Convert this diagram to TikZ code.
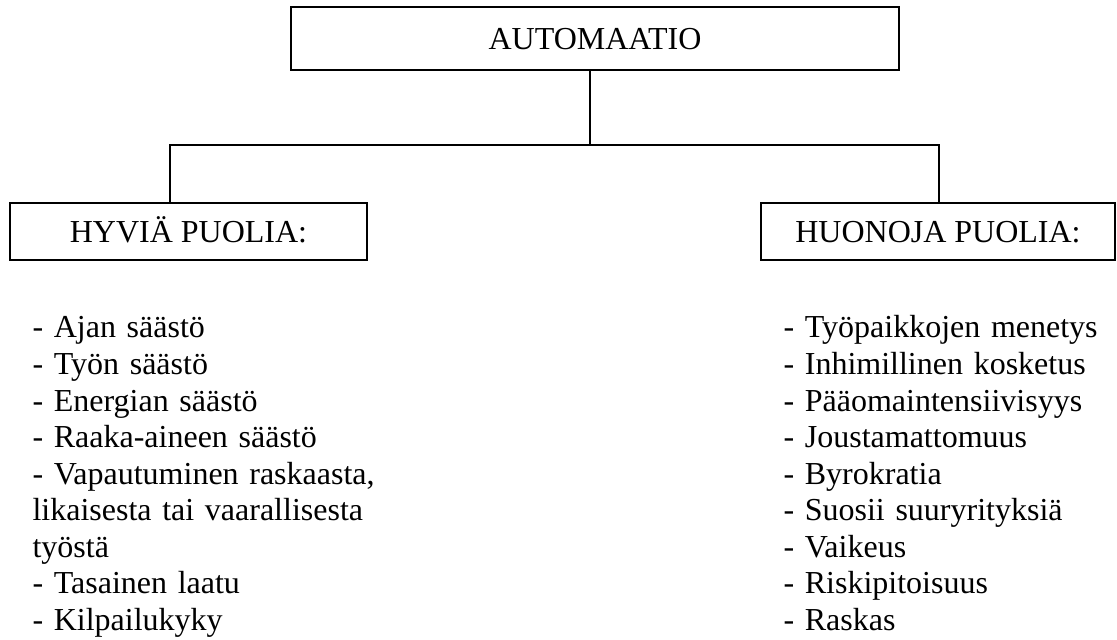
\documentclass[tikz,border=0pt]{standalone}
\usepackage{fontspec}
\setmainfont{Liberation Serif}
\usetikzlibrary{positioning}
\tikzset{
  headbox/.style={
    draw, line width=0.75pt, minimum width=228pt, minimum height=23.6pt,
    text height=7.95pt, text depth=0pt, inner sep=0pt
  },
  sidebox/.style={
    draw, line width=0.75pt, minimum height=21.4pt,
    text height=7.95pt, text depth=0pt, inner sep=0pt
  },
  plist/.style={
    anchor=base west, inner sep=0pt, align=left, text width=150pt,
    font=\fontsize{12pt}{13.69pt}\selectfont
  },
  link/.style={line width=0.75pt}
}

\begin{document}
\begin{tikzpicture}[x=0.375pt,y=-0.375pt,font=\fontsize{12pt}{13.69pt}\selectfont]
    \useasboundingbox (0,0) rectangle (1117,640);

    % boxes
    \node[headbox] (auto) at (595,38.5) {AUTOMAATIO};
    \node[sidebox,minimum width=133.9pt] (good) at (188.5,231.5) {HYVIÄ PUOLIA:};
    \node[sidebox,minimum width=132.75pt] (bad) at (938,231.5) {HUONOJA PUOLIA:};

    % branch points
    \coordinate (hub) at (590,145);
    \coordinate (barL) at (170,145);
    \coordinate (barR) at (939,145);
    \draw[link] (hub |- auto.south) -- (hub);
    \draw[link] (barL |- good.north) -- (barL) -- (barR) -- (barR |- bad.north);

    % lists
    \node[plist] (pros) at (32,338) {- Ajan säästö\\
      - Työn säästö\\
      - Energian säästö\\
      - Raaka-aineen säästö\\
      - Vapautuminen raskaasta,\\
      likaisesta tai vaarallisesta\\
      työstä\\
      - Tasainen laatu\\
      - Kilpailukyky};
    \node[plist] (cons) at (783,338) {- Työpaikkojen menetys\\
      - Inhimillinen kosketus\\
      - Pääomaintensiivisyys\\
      - Joustamattomuus\\
      - Byrokratia\\
      - Suosii suuryrityksiä\\
      - Vaikeus\\
      - Riskipitoisuus\\
      - Raskas};
\end{tikzpicture}
\end{document}
